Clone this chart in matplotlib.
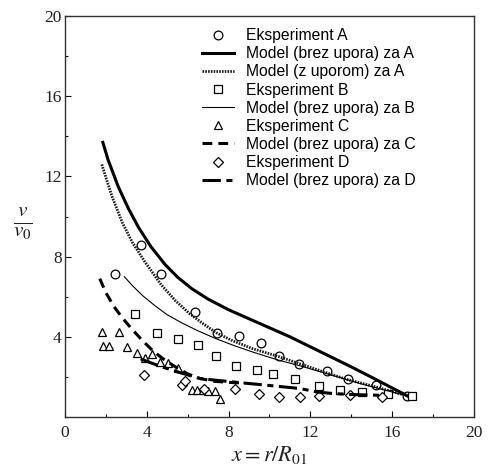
import numpy as np
import matplotlib
matplotlib.use("Agg")
import matplotlib.pyplot as plt
from matplotlib.legend_handler import HandlerLine2D
from matplotlib.ticker import MultipleLocator

plt.rcParams['mathtext.fontset'] = 'stix'

exp_a_x = [2.44, 3.70, 4.71, 6.36, 7.45, 8.49, 9.57, 10.45, 11.46, 12.80, 13.82, 15.19, 16.74]
exp_a_y = [7.12, 8.58, 7.12, 5.22, 4.17, 4.05, 3.70, 3.03, 2.62, 2.30, 1.87, 1.58, 1.05]

exp_b_x = [3.42, 4.48, 5.51, 6.50, 7.38, 8.36, 9.37, 10.19, 11.25, 12.42, 13.45, 14.51, 15.78, 16.95]
exp_b_y = [5.12, 4.17, 3.87, 3.57, 3.03, 2.55, 2.33, 2.12, 1.90, 1.55, 1.33, 1.25, 1.15, 1.03]

exp_c_x = [1.79, 2.66, 1.87, 2.14, 3.02, 3.50, 3.91, 4.24, 4.65, 5.05, 5.54, 6.19, 6.46, 6.76, 7.00, 7.33, 7.58]
exp_c_y = [4.22, 4.22, 3.55, 3.55, 3.50, 3.17, 2.92, 3.13, 2.75, 2.67, 2.42, 1.37, 1.37, 1.33, 1.30, 1.28, 0.92]

exp_d_x = [3.84, 5.71, 5.85, 6.80, 8.32, 9.50, 10.48, 11.49, 12.40, 13.94, 15.49]
exp_d_y = [2.10, 1.62, 1.80, 1.42, 1.42, 1.15, 1.02, 1.02, 1.04, 1.12, 1.02]

# model curves
mod_a_x = [1.85, 2.1, 2.6, 3.1, 3.6, 4.2, 4.9, 5.5, 6.2, 7.0, 8.0, 9.0, 10.0,
           11.0, 12.0, 13.0, 14.0, 15.0, 15.9, 16.75]
mod_a_y = [13.7, 12.85, 11.5, 10.4, 9.45, 8.5, 7.6, 6.98, 6.4, 5.88, 5.35, 4.9, 4.45,
           4.0, 3.5, 3.0, 2.5, 1.98, 1.5, 1.05]

mod_az_x = [1.8, 2.0, 2.3, 2.8, 3.3, 3.9, 4.7, 5.4, 6.1, 6.8, 7.4, 8.2, 9.2,
            10.4, 11.5, 12.5, 13.8, 15.2, 16.75]
mod_az_y = [12.6, 11.95, 11.0, 9.7, 8.7, 7.75, 6.6, 5.8, 5.15, 4.62, 4.2, 3.8, 3.4,
            3.03, 2.65, 2.3, 1.87, 1.5, 1.05]

mod_b_x = [2.9, 3.3, 3.8, 4.4, 5.0, 5.7, 6.5, 7.4, 8.3, 9.3, 10.4, 11.5, 12.5,
           13.5, 14.5, 15.5, 16.75]
mod_b_y = [7.0, 6.55, 6.05, 5.55, 5.1, 4.7, 4.3, 3.9, 3.55, 3.2, 2.85, 2.55, 2.25,
           1.95, 1.65, 1.38, 1.05]

mod_c_x = [1.7, 2.0, 2.4, 2.8, 3.3, 3.8, 4.3, 4.8, 5.4, 6.0, 6.6, 7.3, 8.1, 8.8]
mod_c_y = [6.9, 6.2, 5.5, 4.95, 4.35, 3.8, 3.3, 2.9, 2.5, 2.15, 1.92, 1.78, 1.72, 1.7]

mod_d_x = [3.7, 4.2, 4.8, 5.6, 6.6, 7.5, 8.5, 9.5, 10.5, 11.5, 12.3, 13.0, 14.0, 15.5]
mod_d_y = [2.9, 2.7, 2.48, 2.22, 1.92, 1.82, 1.72, 1.62, 1.52, 1.42, 1.25, 1.18, 1.12, 1.08]


class RightMarker(HandlerLine2D):
    def get_xdata(self, legend, xdescent, ydescent, width, height, fontsize):
        xdata = np.array([-xdescent, -xdescent + width])
        return xdata, np.array([-xdescent + width - 1.5])


fig = plt.figure(figsize=(4.88, 4.70), dpi=100)
ax = fig.add_axes([0.1332, 0.1128, 0.838, 0.853])

mk = dict(ls='none', mfc='white', mec='black', mew=0.9, ms=6.3)
lw = 2.2

ax.plot(exp_a_x, exp_a_y, marker='o', label='Eksperiment A', **mk)
ax.plot(mod_a_x, mod_a_y, color='black', lw=lw, label='Model (brez upora) za A')
ax.plot(mod_az_x, mod_az_y, color='#222222', lw=2.0, ls=(0, (0.6, 0.4)),
        label='Model (z uporom) za A')
ax.plot(exp_b_x, exp_b_y, marker='s', label='Eksperiment B', **mk)
ax.plot(mod_b_x, mod_b_y, color='black', lw=0.8, label='Model (brez upora) za B')
ax.plot(exp_c_x, exp_c_y, marker='^', label='Eksperiment C', **mk)
ax.plot(mod_c_x, mod_c_y, color='black', lw=lw, ls=(0, (3.2, 2.0)),
        label='Model (brez upora) za C')
ax.plot(exp_d_x, exp_d_y, marker='D', label='Eksperiment D', **dict(mk, ms=5.2))
ax.plot(mod_d_x, mod_d_y, color='black', lw=lw, ls=(0, (6, 1.8, 2, 1.8)),
        label='Model (brez upora) za D')

ax.set_xlim(0, 20)
ax.set_ylim(0, 20)
ax.xaxis.set_major_locator(MultipleLocator(4))
ax.xaxis.set_minor_locator(MultipleLocator(2))
ax.set_yticks([4, 8, 12, 16, 20])
ax.yaxis.set_minor_locator(MultipleLocator(2))
ax.tick_params(which='both', direction='in', top=False, right=False)
ax.tick_params(which='major', length=4, width=0.8, labelsize=12.5)
ax.tick_params(axis='x', which='major', pad=6)
ax.tick_params(axis='y', which='major', pad=2.5)
ax.tick_params(which='minor', length=2.5, width=0.8)
for t in ax.get_xticklabels() + ax.get_yticklabels():
    t.set_fontfamily('Liberation Serif')
    t.set_color('#222222')
for s in ax.spines.values():
    s.set_linewidth(1.0)
    s.set_color('#333333')

ax.set_xlabel(r'$x = r/R_{01}$', fontsize=16, color='#222222', labelpad=2)
fig.text(0.048, 0.525, r'$\frac{v}{v_0}$', fontsize=22, color='#222222',
         ha='center', va='center')

leg = ax.legend(loc='upper left', bbox_to_anchor=(0.335, 0.97), frameon=False,
                borderaxespad=0, borderpad=0, handlelength=2.05, handletextpad=0.75,
                labelspacing=0.2, prop={'family': 'Liberation Sans', 'size': 11.3},
                handler_map={matplotlib.lines.Line2D: RightMarker()})

fig.savefig('out.png', dpi=100)
